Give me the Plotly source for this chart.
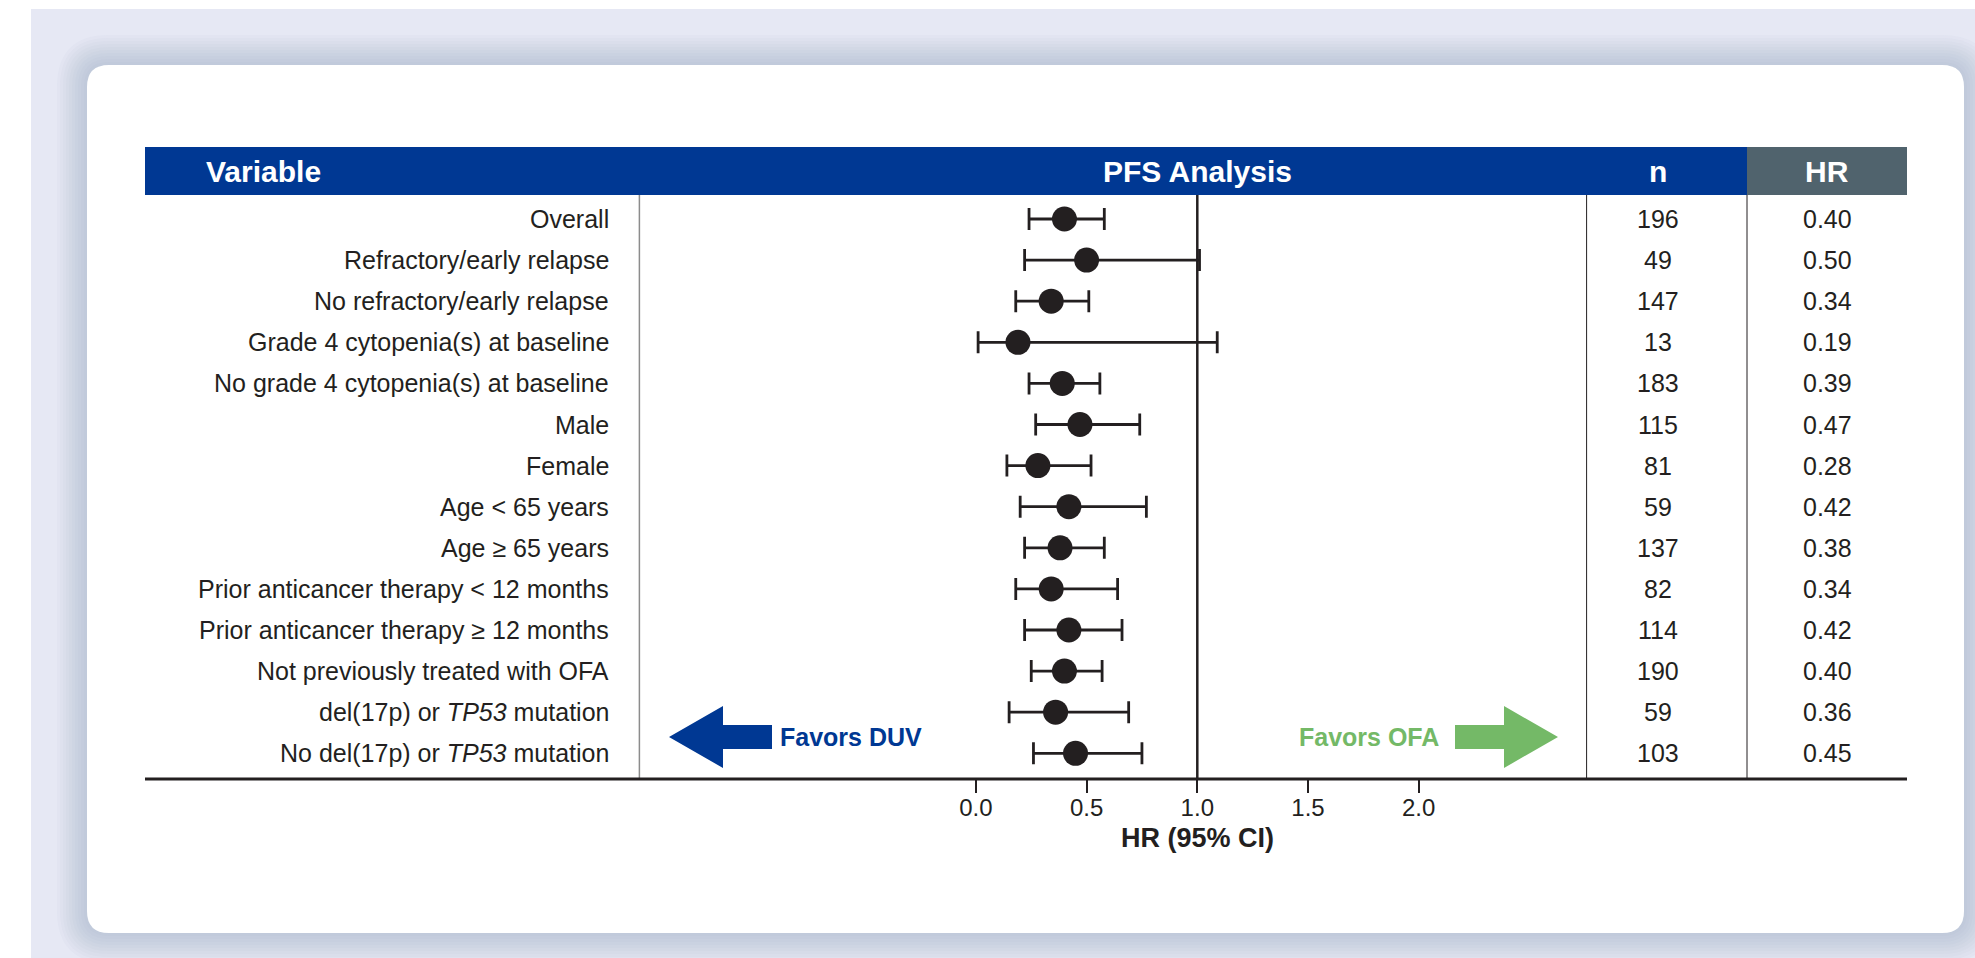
import plotly.graph_objects as go

# ---------------- data ----------------
variables = [
    "Overall",
    "Refractory/early relapse",
    "No refractory/early relapse",
    "Grade 4 cytopenia(s) at baseline",
    "No grade 4 cytopenia(s) at baseline",
    "Male",
    "Female",
    "Age < 65 years",
    "Age \u2265 65 years",
    "Prior anticancer therapy < 12 months",
    "Prior anticancer therapy \u2265 12 months",
    "Not previously treated with OFA",
    "del(17p) or <i>TP53</i> mutation",
    "No del(17p) or <i>TP53</i> mutation",
]
n_values = [196, 49, 147, 13, 183, 115, 81, 59, 137, 82, 114, 190, 59, 103]
hr_values = [0.40, 0.50, 0.34, 0.19, 0.39, 0.47, 0.28, 0.42, 0.38, 0.34, 0.42, 0.40, 0.36, 0.45]
ci_low = [0.24, 0.22, 0.18, 0.01, 0.24, 0.27, 0.14, 0.20, 0.22, 0.18, 0.22, 0.25, 0.15, 0.26]
ci_high = [0.58, 1.01, 0.51, 1.09, 0.56, 0.74, 0.52, 0.77, 0.58, 0.64, 0.66, 0.57, 0.69, 0.75]
x_ticks = [0.0, 0.5, 1.0, 1.5, 2.0]
x_tick_labels = ["0.0", "0.5", "1.0", "1.5", "2.0"]

# ---------------- geometry helpers ----------------
W, H = 1975, 958
def fx(p):
    return p / W
def fy(p):
    return 1 - p / H

FONT = "Liberation Sans, Arial, Helvetica, sans-serif"
DARK = "#231f20"
BLUE = "#003893"
GRAY_HDR = "#50636d"
GREEN = "#74b967"
LAV = "#e6e8f4"

X0_PX, PX_PER_UNIT = 975.9, 221.4
ROW0_PX, ROW_STEP = 219.0, 41.1
PLOT_L, PLOT_R = 639.4, 1586.6
TOP, BOTTOM = 195.0, 779.0
N_LINE, HR_LINE = 1586.6, 1747.0
TABLE_L, TABLE_R = 145.0, 1907.0

rows = list(range(len(variables)))

fig = go.Figure()
fig.add_trace(go.Scatter(
    x=hr_values, y=rows, mode="markers",
    marker=dict(size=25, color=DARK),
    error_x=dict(type="data", symmetric=False,
                 array=[h - v for h, v in zip(ci_high, hr_values)],
                 arrayminus=[v - l for l, v in zip(ci_low, hr_values)],
                 color=DARK, thickness=2.8, width=11),
    showlegend=False, hoverinfo="skip",
))

shapes = []

def rrect(x0, y0, x1, y1, r):
    X0, X1 = fx(x0), fx(x1)
    Y0, Y1 = fy(y0), fy(y1)
    rx, ry = r / W, r / H
    return (f"M {X0+rx},{Y0} L {X1-rx},{Y0} Q {X1},{Y0} {X1},{Y0-ry} "
            f"L {X1},{Y1+ry} Q {X1},{Y1} {X1-rx},{Y1} "
            f"L {X0+rx},{Y1} Q {X0},{Y1} {X0},{Y1+ry} "
            f"L {X0},{Y0-ry} Q {X0},{Y0} {X0+rx},{Y0} Z")

# lavender page background
shapes.append(dict(type="rect", xref="paper", yref="paper", x0=fx(31), x1=fx(W), y0=fy(9), y1=fy(H),
                   fillcolor=LAV, line=dict(width=0), layer="below"))
# soft shadow around card
for k in range(10, 0, -1):
    e = k * 3
    shapes.append(dict(type="path", xref="paper", yref="paper",
                       path=rrect(87 - e, 65 - e, 1964 + e, 933 + e, 22 + e),
                       fillcolor="#8a8fa8", opacity=0.04, line=dict(width=0), layer="below"))
# white card
shapes.append(dict(type="path", xref="paper", yref="paper", path=rrect(87, 65, 1964, 933, 22),
                   fillcolor="white", line=dict(width=0), layer="below"))
# header bars
shapes.append(dict(type="rect", xref="paper", yref="paper", x0=fx(TABLE_L), x1=fx(HR_LINE), y0=fy(195), y1=fy(147),
                   fillcolor=BLUE, line=dict(width=0), layer="below"))
shapes.append(dict(type="rect", xref="paper", yref="paper", x0=fx(HR_LINE), x1=fx(TABLE_R), y0=fy(195), y1=fy(147),
                   fillcolor=GRAY_HDR, line=dict(width=0), layer="below"))
# column separators
shapes.append(dict(type="line", xref="paper", yref="paper", x0=fx(PLOT_L), x1=fx(PLOT_L), y0=fy(TOP), y1=fy(BOTTOM),
                   line=dict(color="#8c8c8c", width=1.5)))
for xl in (N_LINE, HR_LINE):
    shapes.append(dict(type="line", xref="paper", yref="paper", x0=fx(xl), x1=fx(xl), y0=fy(TOP), y1=fy(BOTTOM),
                       line=dict(color=DARK, width=1)))
# reference line at HR = 1
shapes.append(dict(type="line", xref="x", yref="paper", x0=1, x1=1, y0=fy(TOP), y1=fy(BOTTOM),
                   line=dict(color=DARK, width=2.5), layer="below"))
# bottom rule
shapes.append(dict(type="line", xref="paper", yref="paper", x0=fx(TABLE_L), x1=fx(TABLE_R), y0=fy(BOTTOM), y1=fy(BOTTOM),
                   line=dict(color=DARK, width=3)))

# arrows
def poly(pts):
    return "M " + " L ".join(f"{fx(a)},{fy(b)}" for a, b in pts) + " Z"
shapes.append(dict(type="path", xref="paper", yref="paper", fillcolor=BLUE, line=dict(width=0),
                   path=poly([(669, 737), (723, 706), (723, 725), (772, 725), (772, 749), (723, 749), (723, 768)])))
shapes.append(dict(type="path", xref="paper", yref="paper", fillcolor=GREEN, line=dict(width=0),
                   path=poly([(1558, 737), (1504, 706), (1504, 725), (1455, 725), (1455, 749), (1504, 749), (1504, 768)])))

ann = []
hdr_y = fy(171)
ann.append(dict(text="<b>Variable</b>", x=fx(204), y=hdr_y, xanchor="left"))
ann.append(dict(text="<b>PFS Analysis</b>", x=fx(1197.3), y=hdr_y, xanchor="center"))
ann.append(dict(text="<b>n</b>", x=fx(1658), y=hdr_y, xanchor="center"))
ann.append(dict(text="<b>HR</b>", x=fx(1827), y=hdr_y, xanchor="center"))
for a in ann:
    a.update(xref="paper", yref="paper", yanchor="middle", showarrow=False,
             font=dict(family=FONT, size=30, color="white"))

for i, (lab, nv, hv) in enumerate(zip(variables, n_values, hr_values)):
    base = dict(yref="y", y=i, xref="paper", yanchor="middle", showarrow=False,
                font=dict(family=FONT, size=25, color=DARK))
    ann.append(dict(base, text=lab, x=fx(611), xanchor="right"))
    ann.append(dict(base, text=str(nv), x=fx(1658), xanchor="center"))
    ann.append(dict(base, text=f"{hv:.2f}", x=fx(1827), xanchor="center"))

ann.append(dict(text="<b>Favors DUV</b>", x=fx(778), y=fy(737), xref="paper", yref="paper",
                xanchor="left", yanchor="middle", showarrow=False,
                font=dict(family=FONT, size=25, color=BLUE)))
ann.append(dict(text="<b>Favors OFA</b>", x=fx(1441), y=fy(737), xref="paper", yref="paper",
                xanchor="right", yanchor="middle", showarrow=False,
                font=dict(family=FONT, size=25, color=GREEN)))
ann.append(dict(text="<b>HR (95% CI)</b>", x=fx(1197.3), y=fy(838), xref="paper", yref="paper",
                xanchor="center", yanchor="middle", showarrow=False,
                font=dict(family=FONT, size=27, color=DARK)))

fig.update_layout(
    width=W, height=H, autosize=False,
    margin=dict(l=0, r=0, t=0, b=0),
    paper_bgcolor="white", plot_bgcolor="rgba(0,0,0,0)",
    shapes=shapes, annotations=ann, showlegend=False,
    xaxis=dict(domain=[fx(PLOT_L), fx(PLOT_R)],
               range=[(PLOT_L - X0_PX) / PX_PER_UNIT, (PLOT_R - X0_PX) / PX_PER_UNIT],
               showgrid=False, zeroline=False, showline=False,
               tickmode="array", tickvals=x_ticks, ticktext=x_tick_labels,
               ticks="outside", ticklen=13, tickwidth=2, tickcolor=DARK,
               ticklabelstandoff=-6,
               tickfont=dict(family=FONT, size=24, color=DARK), fixedrange=True),
    yaxis=dict(domain=[fy(BOTTOM), fy(TOP)],
               range=[(BOTTOM - ROW0_PX) / ROW_STEP, (TOP - ROW0_PX) / ROW_STEP],
               showgrid=False, zeroline=False, showline=False, showticklabels=False,
               ticks="", fixedrange=True),
)

fig.write_html("out.html", config={"displayModeBar": False},
               post_script="document.body.style.margin='0';document.body.style.padding='0';")
